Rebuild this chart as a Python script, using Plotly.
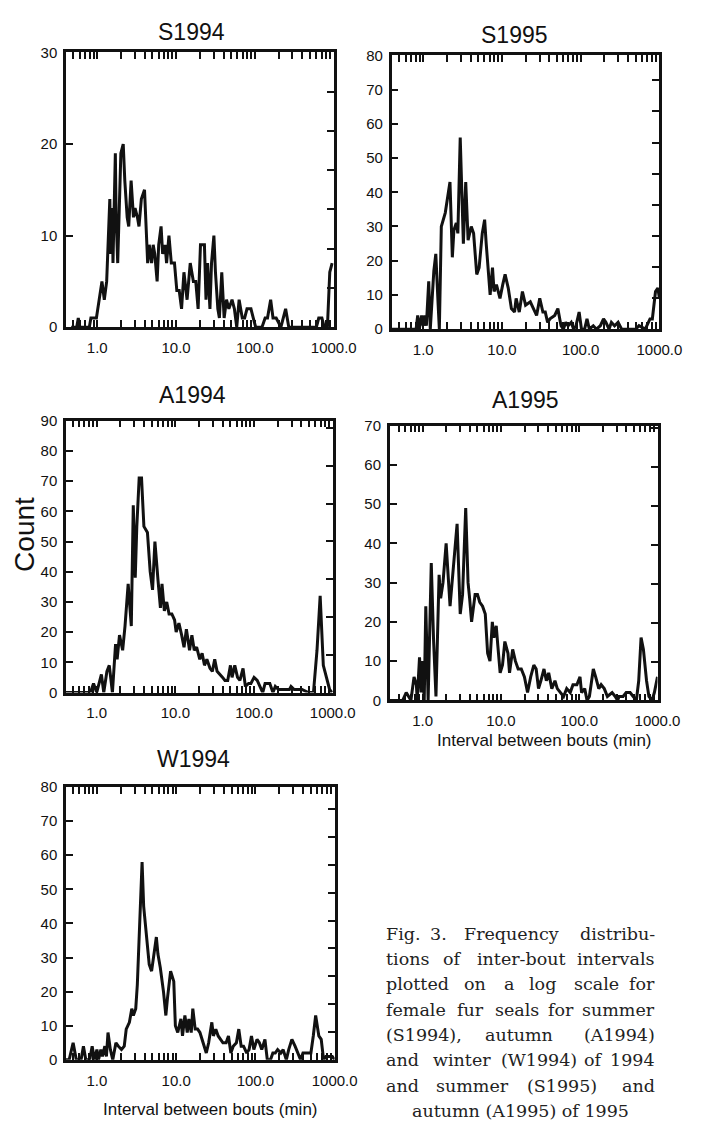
import plotly.graph_objects as go

W, H = 703, 1128        # browser window
OFF = 8                 # default page (body) margin around the plot div
FW, FH = W - 2 * OFF, H - 2 * OFF

# ---- data: vertices of each frequency polygon ----
# positions are log10(interval between bouts, min); values are counts
S1994_LOG = [-0.33, -0.26, -0.24, -0.22, -0.10, -0.08, -0.01, 0.06, 0.09, 0.12, 0.16, 0.17, 0.19, 0.20, 0.23, 0.24, 0.26,
             0.28, 0.30, 0.33, 0.35, 0.38, 0.40, 0.43, 0.46, 0.48, 0.51, 0.53, 0.56, 0.60, 0.62, 0.64, 0.66, 0.69, 0.71,
             0.73, 0.76, 0.78, 0.81, 0.83, 0.86, 0.88, 0.91, 0.94, 0.98, 1.01, 1.04, 1.07, 1.10, 1.13, 1.14, 1.18, 1.22,
             1.25, 1.28, 1.31, 1.36, 1.38, 1.40, 1.43, 1.45, 1.48, 1.50, 1.53, 1.55, 1.58, 1.61, 1.64, 1.67, 1.71, 1.74,
             1.77, 1.80, 1.84, 1.87, 1.90, 1.95, 1.98, 2.01, 2.09, 2.13, 2.16, 2.20, 2.23, 2.27, 2.33, 2.39, 2.43, 2.78,
             2.81, 2.85, 2.88, 2.92, 2.95, 2.98]
S1994_COUNT = [0, 0, 1, 0, 0, 1, 1, 5, 3, 5, 14, 8, 13, 7, 19, 12, 7,
               13, 19, 20, 16, 12, 11, 16, 12, 13, 12, 11, 14, 15, 11, 7, 9, 7, 9,
               8, 5, 9, 11, 8, 9, 7, 10, 7, 7, 4, 4, 2, 6, 4, 3, 7, 5,
               5, 2, 9, 9, 3, 7, 2, 7, 10, 6, 2, 1, 6, 1, 3, 2, 3, 2,
               0, 3, 1, 1, 2, 2, 1, 0, 0, 1, 1, 3, 1, 1, 0, 2, 0, 0,
               1, 1, 0, 0, 6, 7]

S1995_LOG = [-0.40, -0.09, -0.07, -0.05, -0.02, 0.00, 0.02, 0.04, 0.07, 0.09, 0.135, 0.16, 0.19, 0.205, 0.23, 0.28, 0.32,
             0.34, 0.37, 0.39, 0.42, 0.44, 0.47, 0.51, 0.54, 0.57, 0.61, 0.64, 0.68, 0.71, 0.75, 0.78, 0.80, 0.83, 0.85,
             0.88, 0.90, 0.93, 0.975, 1.01, 1.04, 1.08, 1.12, 1.16, 1.18, 1.22, 1.26, 1.30, 1.36, 1.40, 1.44, 1.48, 1.52,
             1.55, 1.58, 1.61, 1.67, 1.71, 1.75, 1.78, 1.81, 1.84, 1.88, 1.91, 1.94, 1.98, 2.01, 2.05, 2.08, 2.11, 2.16,
             2.20, 2.25, 2.29, 2.32, 2.36, 2.39, 2.43, 2.475, 2.52, 2.70, 2.74, 2.82, 2.88, 2.91, 2.95, 2.98, 3.00]
S1995_COUNT = [0, 0, 4, 0, 4, 1, 4, 1, 14, 0, 17, 22, 7, 0, 30, 34, 40,
               43, 21, 29, 31, 28, 56, 25, 43, 26, 30, 28, 16, 18, 28, 32, 25, 14, 10,
               18, 11, 13, 9, 13, 16, 12, 6, 5, 9, 5, 11, 7, 8, 6, 4, 9, 5,
               5, 2, 3, 4, 6, 1, 0, 2, 1, 2, 0, 1, 5, 0, 0, 3, 0, 1,
               0, 1, 3, 2, 0, 2, 1, 2, 0, 0, 1, 0, 3, 3, 11, 12, 9]

A1994_LOG = [-0.39, -0.08, -0.04, 0.00, 0.06, 0.09, 0.13, 0.16, 0.20, 0.24, 0.26, 0.29, 0.33, 0.36, 0.40, 0.42, 0.44,
             0.465, 0.49, 0.51, 0.54, 0.57, 0.60, 0.645, 0.68, 0.71, 0.74, 0.78, 0.81, 0.83, 0.86, 0.89, 0.92, 0.955,
             0.99, 1.01, 1.045, 1.08, 1.11, 1.14, 1.18, 1.21, 1.24, 1.27, 1.31, 1.34, 1.37, 1.40, 1.44, 1.47, 1.50,
             1.53, 1.57, 1.60, 1.63, 1.665, 1.70, 1.72, 1.755, 1.79, 1.82, 1.86, 1.89, 1.93, 1.96, 2.00, 2.04, 2.08,
             2.11, 2.14, 2.20, 2.24, 2.27, 2.31, 2.37, 2.45, 2.47, 2.51, 2.61, 2.69, 2.755, 2.80, 2.84, 2.88, 2.92,
             2.96, 2.99]
A1994_COUNT = [0, 0, 3, 0, 6, 0, 7, 9, 0, 16, 11, 19, 14, 22, 36, 27, 22,
               62, 38, 55, 71, 71, 55, 53, 40, 34, 50, 37, 28, 36, 27, 30, 26, 26,
               24, 20, 23, 19, 15, 21, 14, 19, 14, 15, 11, 13, 9, 11, 8, 7, 11,
               7, 6, 5, 4, 4, 9, 5, 9, 5, 4, 8, 2, 3, 3, 5, 4, 2,
               0, 3, 3, 0, 2, 1, 1, 1, 2, 1, 1, 0, 0, 14, 32, 9, 5,
               1, 0]

A1995_LOG = [-0.42, -0.255, -0.21, -0.15, -0.11, -0.08, -0.07, -0.04, -0.02, 0.00, 0.02, 0.04, 0.07, 0.11, 0.14, 0.17,
             0.21, 0.23, 0.26, 0.30, 0.35, 0.39, 0.44, 0.48, 0.51, 0.55, 0.58, 0.60, 0.625, 0.67, 0.70, 0.73, 0.765,
             0.80, 0.83, 0.86, 0.89, 0.91, 0.94, 0.96, 0.99, 1.02, 1.05, 1.09, 1.11, 1.15, 1.185, 1.22, 1.26, 1.30,
             1.34, 1.38, 1.42, 1.45, 1.48, 1.51, 1.55, 1.58, 1.61, 1.65, 1.69, 1.72, 1.76, 1.80, 1.84, 1.885, 1.92,
             1.97, 2.01, 2.03, 2.07, 2.10, 2.13, 2.18, 2.21, 2.25, 2.28, 2.32, 2.36, 2.42, 2.46, 2.49, 2.51, 2.56,
             2.60, 2.65, 2.69, 2.73, 2.76, 2.79, 2.82, 2.86, 2.89, 2.93, 2.96, 3.00]
A1995_COUNT = [0, 0, 2, 0, 6, 4, 0, 11, 2, 10, 0, 24, 0, 35, 15, 1,
               32, 26, 30, 40, 24, 33, 45, 22, 27, 49, 30, 26, 20, 27, 27, 25, 24,
               22, 12, 10, 20, 16, 19, 14, 7, 9, 15, 12, 7, 13, 10, 8, 8, 6,
               2, 6, 9, 8, 3, 5, 8, 5, 7, 3, 5, 3, 2, 1, 3, 2, 4,
               4, 6, 2, 3, 0, 1, 8, 6, 3, 4, 3, 1, 2, 1, 0, 1, 1,
               2, 2, 1, 0, 5, 16, 13, 5, 1, 0, 2, 6]

W1994_LOG = [-0.39, -0.35, -0.30, -0.26, -0.20, -0.17, -0.14, -0.09, -0.06, -0.03, 0.00, 0.02, 0.05, 0.07, 0.10, 0.12,
             0.14, 0.17, 0.20, 0.24, 0.27, 0.31, 0.345, 0.37, 0.41, 0.44, 0.46, 0.49, 0.51, 0.54, 0.57, 0.59, 0.63,
             0.66, 0.69, 0.715, 0.75, 0.77, 0.80, 0.84, 0.87, 0.89, 0.93, 0.97, 0.99, 1.02, 1.06, 1.08, 1.11, 1.14,
             1.16, 1.19, 1.21, 1.24, 1.27, 1.30, 1.34, 1.38, 1.41, 1.45, 1.47, 1.50, 1.53, 1.56, 1.59, 1.63, 1.66,
             1.69, 1.72, 1.76, 1.79, 1.82, 1.85, 1.89, 1.92, 1.95, 1.98, 2.02, 2.05, 2.08, 2.12, 2.15, 2.19, 2.22,
             2.25, 2.28, 2.32, 2.35, 2.39, 2.42, 2.46, 2.50, 2.54, 2.57, 2.60, 2.67, 2.70, 2.73, 2.76, 2.80, 2.83,
             2.86, 2.89, 2.97, 3.00]
W1994_COUNT = [0, 0, 5, 0, 0, 4, 0, 0, 4, 0, 3, 0, 3, 1, 4, 1,
               8, 3, 0, 5, 4, 3, 4, 9, 11, 15, 13, 15, 22, 40, 58, 45, 35,
               28, 26, 30, 36, 31, 27, 20, 13, 18, 26, 23, 10, 8, 12, 7, 13, 8,
               12, 8, 15, 9, 9, 8, 5, 2, 5, 11, 7, 9, 7, 6, 5, 5, 7,
               2, 4, 5, 9, 4, 4, 2, 3, 7, 3, 6, 5, 3, 6, 0, 0, 2,
               2, 3, 2, 3, 0, 3, 6, 4, 2, 0, 2, 2, 2, 7, 13, 7, 6,
               0, 1, 1, 0]

X_TICKVALS = [1, 10, 100, 1000]
X_TICKTEXT = ["1.0", "10.0", "100.0", "1000.0"]
X_MINOR = [0.5, 0.6, 0.7, 0.8, 0.9, 2, 3, 4, 5, 6, 7, 8, 9,
           20, 30, 40, 50, 60, 70, 80, 90, 200, 300, 400, 500, 600, 700, 800, 900]

# panel: title, log-x, counts, pixel box (x0, x1, ytop, ybottom), x-min exponent, ymax, right-axis intervals
PANELS = [
    ("S1994", S1994_LOG, S1994_COUNT, (68, 345, 44, 323), -0.396, 30, 7.0),
    ("S1995", S1995_LOG, S1995_COUNT, (405, 682, 47, 325), -0.40, 80, 8.8),
    ("A1994", A1994_LOG, A1994_COUNT, (68, 344, 418, 694), -0.39, 90, 7.19),
    ("A1995", A1995_LOG, A1995_COUNT, (403, 680, 423, 702), -0.42, 70, 7.07),
    ("W1994", W1994_LOG, W1994_COUNT, (68, 346, 790, 1067), -0.39, 80, 9.8),
]
TITLE_POS = [(198, 23), (532, 26), (199, 392), (543, 397), (200, 762)]

TICKFONT = dict(family="Liberation Sans, Arial, sans-serif", size=15, color="#111")
BLACK = "#111"


def px_x(p):
    return (p - OFF) / FW


def px_y(p):
    return 1 - (p - OFF) / FH


fig = go.Figure()
layout = dict(width=FW, height=FH, margin=dict(l=0, r=0, t=0, b=0),
              paper_bgcolor="white", plot_bgcolor="white", showlegend=False)
annotations = []

n = len(PANELS)
for i, (name, lx, cnt, box, xmin, ymax, rint) in enumerate(PANELS):
    k = i + 1
    kr = n + k
    xa = "x" if k == 1 else f"x{k}"
    ya = "y" if k == 1 else f"y{k}"
    yr = f"y{kr}"
    x0, x1, yt, yb = box
    xs = [10 ** v for v in lx]
    fig.add_trace(go.Scatter(x=xs, y=cnt, mode="lines", xaxis=xa, yaxis=ya,
                             line=dict(color=BLACK, width=3), hoverinfo="skip"))
    # anchor trace so the right-hand tick axis is drawn
    fig.add_trace(go.Scatter(x=[1], y=[0], mode="markers", xaxis=xa, yaxis=yr,
                             marker=dict(opacity=0, size=1), hoverinfo="skip"))
    layout["xaxis" if k == 1 else f"xaxis{k}"] = dict(
        type="log", range=[xmin, 3.0], domain=[px_x(x0), px_x(x1)], anchor=ya,
        showline=True, linecolor=BLACK, linewidth=2.5, mirror="allticks",
        ticks="inside", ticklen=7, tickwidth=2, tickcolor=BLACK,
        tickmode="array", tickvals=X_TICKVALS, ticktext=X_TICKTEXT, tickfont=TICKFONT,
        ticklabelstandoff=5,
        minor=dict(ticks="inside", ticklen=4, tickwidth=1.6, tickcolor=BLACK,
                   tickmode="array", tickvals=X_MINOR, showgrid=False),
        showgrid=False, zeroline=False, fixedrange=True)
    layout["yaxis" if k == 1 else f"yaxis{k}"] = dict(
        range=[0, ymax], domain=[px_y(yb), px_y(yt)], anchor=xa,
        showline=True, linecolor=BLACK, linewidth=2.5, mirror=True,
        ticks="inside", ticklen=7, tickwidth=2, tickcolor=BLACK,
        dtick=10, tick0=0, tickfont=TICKFONT, ticklabelstandoff=3,
        showgrid=False, zeroline=False, fixedrange=True)
    nr = int(rint) if rint > int(rint) else int(rint) - 1
    layout[f"yaxis{kr}"] = dict(
        range=[0, rint], overlaying=ya, side="right", anchor=xa,
        tickmode="array", tickvals=list(range(1, nr + 1)),
        ticks="inside", ticklen=7, tickwidth=2, tickcolor=BLACK,
        showticklabels=False, showline=False, showgrid=False, zeroline=False, fixedrange=True)
    tx, ty = TITLE_POS[i]
    annotations.append(dict(text=name, x=px_x(tx), y=px_y(ty), xref="paper", yref="paper",
                            xanchor="center", yanchor="middle", showarrow=False,
                            font=dict(family="Liberation Sans, Arial, sans-serif", size=23, color=BLACK)))

# axis titles
annotations.append(dict(text="Count", x=px_x(25.5), y=px_y(533), xref="paper", yref="paper",
                        xanchor="center", yanchor="middle", showarrow=False, textangle=-90,
                        borderpad=0,
                        font=dict(family="Liberation Sans, Arial, sans-serif", size=28, color=BLACK)))
for (cx, cy) in [(563, 743), (217, 1117)]:
    annotations.append(dict(text="Interval between bouts (min)", x=px_x(cx), y=px_y(cy),
                            xref="paper", yref="paper", xanchor="center", yanchor="middle",
                            showarrow=False,
                            font=dict(family="Liberation Sans, Arial, sans-serif", size=17, color=BLACK)))

# caption (justified by placing words)
CAPTION_LINES = [
    [("Fig.", "l", 397), ("3.", "c", 453.5), ("Frequency", "c", 529), ("distribu-", "r", 679)],
    [("tions", "l", 397), ("of", "c", 467.5), ("inter-bout", "c", 539), ("intervals", "r", 679)],
    [("plotted", "l", 397), ("on", "c", 491.5), ("a", "c", 526.5), ("log", "c", 561.5), ("scale", "c", 616.5),
     ("for", "r", 679)],
    [("female", "l", 397), ("fur", "c", 487), ("seals", "c", 535), ("for", "c", 580), ("summer", "r", 679)],
    [("(S1994),", "l", 397), ("autumn", "c", 536.5), ("(A1994)", "r", 679)],
    [("and", "l", 397), ("winter", "c", 477.5), ("(W1994)", "c", 557.5), ("of", "c", 614), ("1994", "r", 679)],
    [("and", "l", 397), ("summer", "c", 489), ("(S1995)", "c", 581.5), ("and", "r", 679)],
    [("autumn (A1995) of 1995", "c", 538)],
]
anch = {"l": "left", "c": "center", "r": "right"}
for li, words in enumerate(CAPTION_LINES):
    yy = 939 + 25.7 * li
    for (wtxt, a, px) in words:
        annotations.append(dict(text=wtxt, x=px_x(px), y=px_y(yy), xref="paper", yref="paper",
                                xanchor=anch[a], yanchor="middle", showarrow=False,
                                font=dict(family="DejaVu Serif, serif", size=17.5, color="#222")))

layout["annotations"] = annotations
fig.update_layout(**layout)
fig.write_html("out.html")
